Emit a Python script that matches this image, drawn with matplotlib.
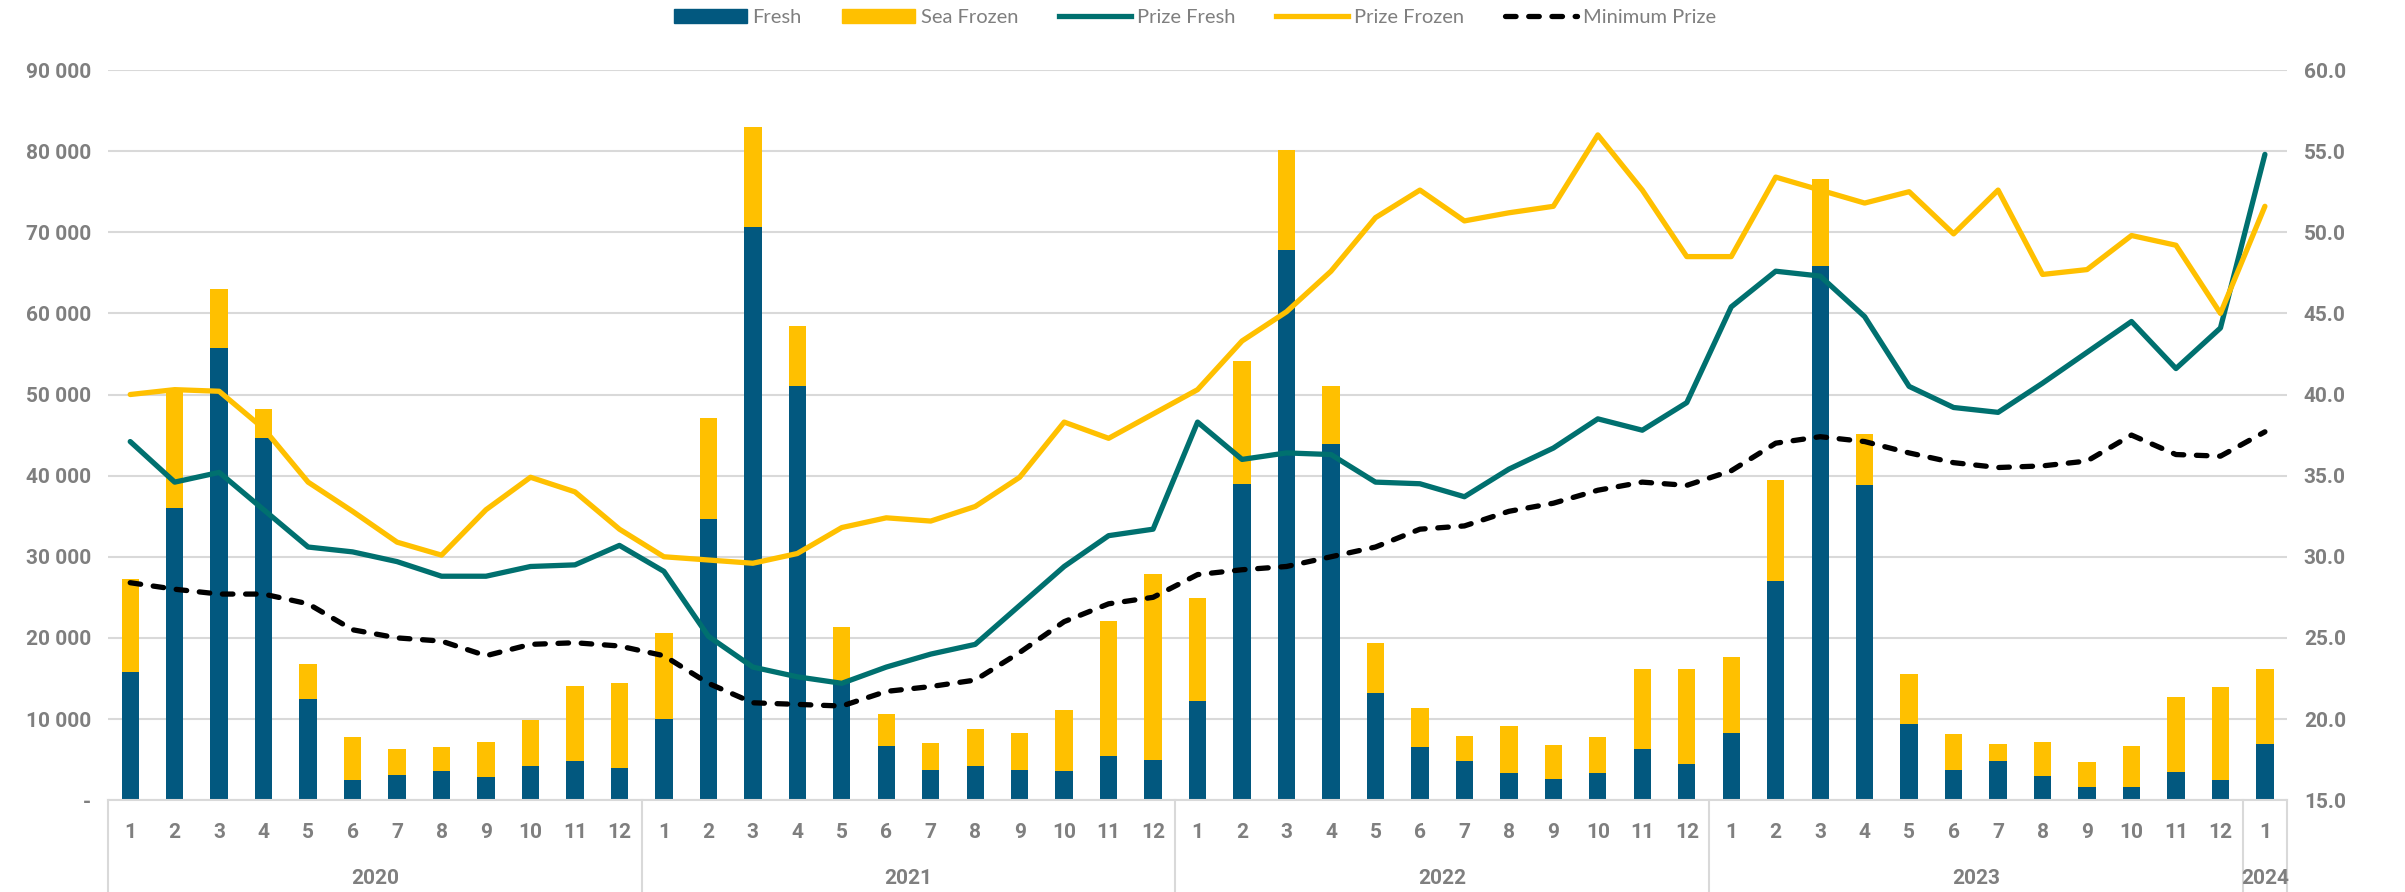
import matplotlib
matplotlib.use("Agg")
import matplotlib.pyplot as plt
import numpy as np
from matplotlib.patches import Patch
from matplotlib.lines import Line2D
from matplotlib.ticker import FuncFormatter, MultipleLocator
from matplotlib import font_manager

plt.rcParams['font.family'] = ['Lato', 'DejaVu Sans']

# months (2020-01 .. 2024-01)
years = ['2020', '2021', '2022', '2023', '2024']
months_per_year = [12, 12, 12, 12, 1]
month_labels = [str(m) for n in months_per_year for m in range(1, n + 1)]

# volumes (stacked bars, left axis)
fresh = np.array([
    15800, 36000, 55700, 44600, 12500, 2500, 3100, 3600, 2900, 4200, 4800, 3900,
    10000, 34700, 70600, 51000, 14500, 6700, 3700, 4200, 3700, 3600, 5500, 5000,
    12200, 39000, 67800, 43900, 13200, 6500, 4800, 3300, 2600, 3300, 6300, 4400,
    8300, 27000, 65800, 38800, 9400, 3700, 4800, 3000, 1600, 1600, 3500, 2500,
    6900])
sea_frozen = np.array([
    11400, 14500, 7300, 3600, 4300, 5300, 3200, 2900, 4300, 5700, 9300, 10500,
    10600, 12400, 12400, 7500, 6900, 3900, 3400, 4600, 4600, 7500, 16600, 22900,
    12700, 15100, 12400, 7100, 6200, 4800, 3100, 5800, 4200, 4500, 9900, 11800,
    9300, 12500, 10800, 6300, 6200, 4500, 2100, 4200, 3100, 5100, 9200, 11400,
    9300])

# prices (lines, right axis)
prize_fresh = [
    37.1, 34.6, 35.2, 32.9, 30.6, 30.3, 29.7, 28.8, 28.8, 29.4, 29.5, 30.7,
    29.1, 25.1, 23.2, 22.6, 22.2, 23.2, 24.0, 24.6, 27.0, 29.4, 31.3, 31.7,
    38.3, 36.0, 36.4, 36.3, 34.6, 34.5, 33.7, 35.4, 36.7, 38.5, 37.8, 39.5,
    45.4, 47.6, 47.3, 44.8, 40.5, 39.2, 38.9, 40.7, 42.6, 44.5, 41.6, 44.1,
    54.8]
prize_frozen = [
    40.0, 40.3, 40.2, 37.9, 34.6, 32.8, 30.9, 30.1, 32.9, 34.9, 34.0, 31.7,
    30.0, 29.8, 29.6, 30.2, 31.8, 32.4, 32.2, 33.1, 34.9, 38.3, 37.3, 38.8,
    40.3, 43.3, 45.1, 47.6, 50.9, 52.6, 50.7, 51.2, 51.6, 56.0, 52.6, 48.5,
    48.5, 53.4, 52.6, 51.8, 52.5, 49.9, 52.6, 47.4, 47.7, 49.8, 49.2, 45.0,
    51.6]
minimum_prize = [
    28.4, 28.0, 27.7, 27.7, 27.1, 25.5, 25.0, 24.8, 23.9, 24.6, 24.7, 24.5,
    23.9, 22.2, 21.0, 20.9, 20.8, 21.7, 22.0, 22.4, 24.1, 26.0, 27.1, 27.5,
    28.9, 29.2, 29.4, 30.0, 30.6, 31.7, 31.9, 32.8, 33.3, 34.1, 34.6, 34.4,
    35.3, 37.0, 37.4, 37.1, 36.4, 35.8, 35.5, 35.6, 35.9, 37.5, 36.3, 36.2,
    37.7]

c_fresh = '#02587F'
c_frozen = '#FFC000'
c_teal = '#00706F'
c_grid = '#D9D9D9'
c_text = '#7F7F7F'
dash = (0, (2.0, 2.4))
tick_font = font_manager.FontProperties(family=['Roboto', 'DejaVu Sans'],
                                        weight='bold', size=15)

x = np.arange(len(month_labels))

fig = plt.figure(figsize=(24.05, 8.92), dpi=100)
ax = fig.add_axes([0.0449, 0.103, 0.9061, 0.8185])
ax2 = ax.twinx()

ax.bar(x, fresh, width=0.39, color=c_fresh, zorder=2)
ax.bar(x, sea_frozen, width=0.39, bottom=fresh, color=c_frozen, zorder=2)

ax2.plot(x, prize_fresh, color=c_teal, lw=3.8, solid_capstyle='round')
ax2.plot(x, prize_frozen, color=c_frozen, lw=3.8, solid_capstyle='round')
ax2.plot(x, minimum_prize, color='black', lw=3.8, ls=dash,
         dash_capstyle='round')

ax.set_xlim(-0.5, len(x) - 0.5)
ax.set_ylim(0, 90000)
ax2.set_ylim(15, 60)
ax.yaxis.set_major_locator(MultipleLocator(10000))
ax2.yaxis.set_major_locator(MultipleLocator(5))
ax.yaxis.set_major_formatter(FuncFormatter(
    lambda v, p: '-' if v == 0 else f'{int(v):,}'.replace(',', ' ')))
ax2.yaxis.set_major_formatter(FuncFormatter(lambda v, p: f'{v:.1f}'))

ax.grid(axis='y', color=c_grid, lw=1.5, zorder=0)
ax.set_axisbelow(True)
for a in (ax, ax2):
    for s in a.spines.values():
        s.set_visible(False)
    a.tick_params(axis='y', length=0, labelcolor=c_text, pad=12)
    for lab in a.get_yticklabels():
        lab.set_fontproperties(tick_font)
ax.set_xticks([])
ax.spines['bottom'].set_visible(True)
ax.spines['bottom'].set_color(c_grid)
ax.spines['bottom'].set_linewidth(1.5)

# two-level category axis
tr = ax.get_xaxis_transform()
for xi, lab in zip(x, month_labels):
    ax.text(xi, -0.045, lab, transform=tr, ha='center', va='center',
            fontproperties=tick_font, color=c_text)
start = 0
bounds = [-0.5]
for yr, n in zip(years, months_per_year):
    ax.text(start + (n - 1) / 2, -0.107, yr, transform=tr, ha='center',
            va='center', fontproperties=tick_font, color=c_text)
    start += n
    bounds.append(start - 0.5)
for b in bounds:
    ax.plot([b, b], [0, -0.13], transform=tr, color=c_grid, lw=1.5,
            clip_on=False)

handles = [
    Patch(color=c_fresh, label='Fresh'),
    Patch(color=c_frozen, label='Sea Frozen'),
    Line2D([], [], color=c_teal, lw=3.8, label='Prize Fresh'),
    Line2D([], [], color=c_frozen, lw=3.8, label='Prize Frozen'),
    Line2D([], [], color='black', lw=3.8, ls=dash, dash_capstyle='round',
           label='Minimum Prize'),
]
fig.legend(handles=handles, loc='center', bbox_to_anchor=(0.497, 0.98),
           ncol=5, frameon=False, fontsize=14.5, labelcolor=c_text,
           handlelength=3.6, handleheight=0.7, columnspacing=2.0,
           handletextpad=0.3)

fig.savefig('out.png', dpi=100)
